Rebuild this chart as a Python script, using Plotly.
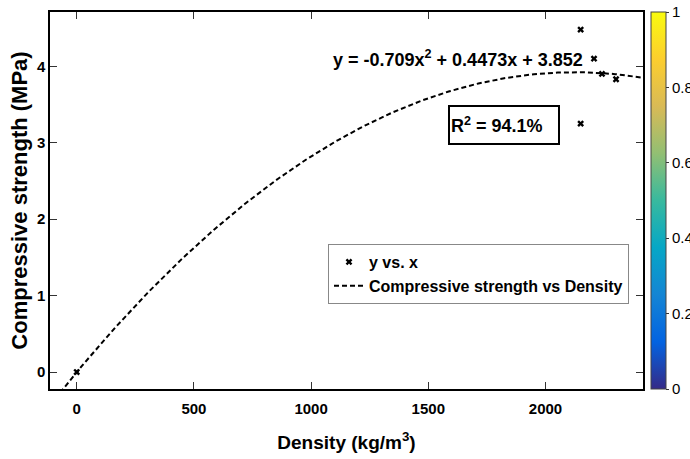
import numpy as np
import plotly.graph_objects as go

# ---- data ----
density = [0, 2150, 2150, 2207, 2241, 2301]          # kg/m^3
strength = [0.0, 4.48, 3.25, 4.10, 3.90, 3.83]       # MPa

# quadratic fit (normalised x), coefficients as printed on the chart
fit_coef = [-0.709, 0.4473, 3.852]
r2_text = "R<sup>2</sup> = 94.1%"
eq_text = "y = -0.709x<sup>2</sup> + 0.4473x + 3.852"

x_ticks = [0, 500, 1000, 1500, 2000]
y_ticks = [0, 1, 2, 3, 4]
cb_ticks = [0, 0.2, 0.4, 0.6, 0.8, 1]

x_range = [-114, 2416]
y_range = [-0.222, 4.71]

parula = ['#352a87', '#0363e1', '#1485d4', '#06a7c6', '#38b99e',
          '#92bf73', '#d9ba56', '#fcce2e', '#f9fb0e']

# fit curve evaluated through the printed coefficients
mu = np.mean(density)
sigma = np.std(density, ddof=1)
xc = np.linspace(x_range[0], x_range[1], 300)
zc = (xc - mu) / sigma
yc = np.polyval(fit_coef, zc)

FONT = "Liberation Sans, Arial, sans-serif"

fig = go.Figure()
fig.add_trace(go.Scatter(
    x=density, y=strength, mode="markers", name="y vs. x",
    marker=dict(symbol="x", size=6, color="black", line=dict(width=0)),
))
fig.add_trace(go.Scatter(
    x=xc, y=yc, mode="lines", name="Compressive strength vs Density",
    line=dict(color="black", width=2, dash="5px,3px"),
))
# colorbar holder
fig.add_trace(go.Scatter(
    x=[None, None], y=[None, None], mode="markers", showlegend=False,
    hoverinfo="skip",
    marker=dict(color=[0, 1], cmin=0, cmax=1,
                colorscale=[[i / (len(parula) - 1), c] for i, c in enumerate(parula)],
                showscale=True,
                colorbar=dict(x=(651 - 50) / 593, xanchor="left", xpad=0,
                              y=0, yanchor="bottom", ypad=0,
                              lenmode="pixels", len=377,
                              thicknessmode="pixels", thickness=15,
                              outlinecolor="#444", outlinewidth=1,
                              tickvals=cb_ticks,
                              ticktext=[("%g" % v) for v in cb_ticks],
                              ticks="outside", ticklen=3, tickcolor="#333",
                              tickfont=dict(family=FONT, size=15, color="black"))),
))

axis_common = dict(showline=True, linecolor="black", linewidth=1.5,
                   mirror="allticks", ticks="inside", ticklen=7,
                   tickwidth=1, tickcolor="#333", showgrid=False,
                   zeroline=False, automargin=False,
                   tickfont=dict(family=FONT, size=15, color="black", weight="bold"))

fig.update_xaxes(range=x_range, tickvals=x_ticks, ticklabelstandoff=5,
                 title=dict(text="Density (kg/m<sup>3</sup>)", standoff=20,
                            font=dict(family=FONT, size=19, color="black", weight="bold")),
                 **axis_common)
fig.update_yaxes(range=y_range, tickvals=y_ticks,
                 title=dict(text="Compressive strength (MPa)", standoff=3,
                            font=dict(family=FONT, size=22, color="black", weight="bold")),
                 **axis_common)

fig.add_annotation(x=1627, y=4.10, xref="x", yref="y", text=eq_text,
                   showarrow=False,
                   font=dict(family=FONT, size=18, color="black", weight="bold"))
fig.add_annotation(x=1821, y=3.235, xref="x", yref="y", text=r2_text,
                   showarrow=False, width=106, height=34, align="left",
                   bordercolor="black", borderwidth=2, borderpad=1, bgcolor="white",
                   font=dict(family=FONT, size=18, color="black", weight="bold"))

fig.update_layout(
    width=690, height=459,
    margin=dict(l=50, r=47, t=12, b=70, autoexpand=False),
    paper_bgcolor="white", plot_bgcolor="white",
    legend=dict(x=(629 - 50) / 593, y=(389 - 244) / 377, xanchor="right", yanchor="top",
                bordercolor="#888", borderwidth=1, bgcolor="white",
                itemwidth=30, tracegroupgap=0,
                font=dict(family=FONT, size=16, color="black", weight="bold")),
    showlegend=True,
)

fig.write_html("out.html", config={"displayModeBar": False},
               post_script="document.body.style.margin='0px';")
